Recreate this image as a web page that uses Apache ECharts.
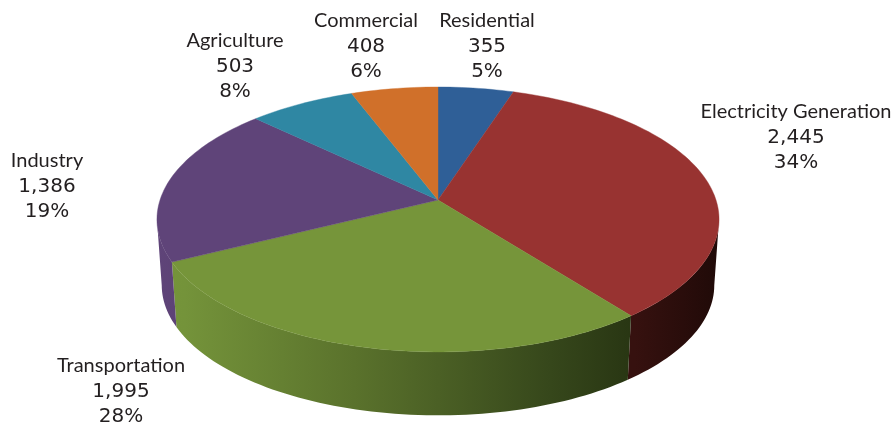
<!DOCTYPE html>
<html>
<head>
<meta charset="utf-8">
<style>html,body{margin:0;padding:0;background:#fff}#chart{width:895px;height:426px}</style>
<script src="https://cdn.jsdelivr.net/npm/echarts@6/dist/echarts.min.js"></script>
</head>
<body>
<div id="chart"></div>
<script>
// Slices run clockwise from twelve o'clock.
const categories = ['Residential', 'Electricity Generation', 'Transportation', 'Industry', 'Agriculture', 'Commercial'];
const values = [355, 2445, 1995, 1386, 503, 408];
const valueLabels = ['355', '2,445', '1,995', '1,386', '503', '408'];
const percentLabels = ['5%', '34%', '28%', '19%', '8%', '6%'];
const topColors = ['#2f5f97', '#983331', '#76953a', '#5f4479', '#2f87a3', '#d0702a'];

// Tilted-disc camera: apex position, half axes, foreshortening and wall depth.
const camera = { cx: 438, cy: 200, a: 278, b: 129.6, persp: 0.147, depth: 66, floorScale: 0.983 };
// Centre of each text block, in slice order.
const labelCentres = [[487, 46.5], [796, 137.5], [121, 391.5], [47, 186.5], [235, 66.5], [366, 46.5]];

const total = values.reduce((s, v) => s + v, 0);
const startAngles = [];
values.reduce((acc, v, i) => { startAngles[i] = acc; return acc + v / total * Math.PI * 2; }, 0);
const sweep = i => values[i] / total * Math.PI * 2;

// The disc's silhouette touches its side extremes at these angles; only the
// rim between them faces the viewer.
const frontStart = Math.acos(-camera.persp);
const frontEnd = Math.PI * 2 - frontStart;

function rim(theta, floor) {
  const w = 1 + camera.persp * Math.cos(theta);
  const k = floor ? camera.floorScale : 1;
  return [
    camera.cx + k * camera.a * Math.sin(theta) / w,
    camera.cy - k * camera.b * Math.cos(theta) / w + (floor ? camera.depth : 0)
  ];
}
function arc(a0, a1, floor) {
  const n = Math.max(8, Math.ceil((a1 - a0) * 40));
  const pts = [];
  for (let k = 0; k <= n; k++) pts.push(rim(a0 + (a1 - a0) * k / n, floor));
  return pts;
}
function wallFill(stops) {
  return { type: 'linear', global: true, x: 157, y: 0, x2: 719, y2: 0,
    colorStops: stops.map(s => ({ offset: s[0], color: s[1] })) };
}
const wallFills = {
  1: wallFill([[0, '#3a1210'], [0.85, '#36110f'], [1, '#200a08']]),
  2: wallFill([[0, '#76953a'], [0.05, '#74933a'], [0.35, '#5a722c'], [0.5, '#4b6025'], [0.7, '#36471b'], [0.86, '#273412'], [1, '#1f2a0e']]),
  3: wallFill([[0, '#5f4479'], [0.1, '#583f70'], [1, '#3f2c52']])
};

const chart = echarts.init(document.getElementById('chart'), null, { renderer: 'canvas' });
const dataRows = values.map((v, i) => [i, v]);
chart.setOption({
  animation: false,
  backgroundColor: '#ffffff',
  series: [
    {
      // Outer walls of the front-facing slices.
      type: 'custom', coordinateSystem: 'none', silent: true, z: 1,
      data: dataRows,
      renderItem(params, api) {
        const i = api.value(0);
        const a0 = Math.max(startAngles[i], frontStart);
        const a1 = Math.min(startAngles[i] + sweep(i), frontEnd);
        if (!wallFills[i] || a1 <= a0) return { type: 'group', children: [] };
        const pts = arc(a0, a1, false).concat(arc(a0, a1, true).reverse());
        return { type: 'polygon', shape: { points: pts }, style: { fill: wallFills[i] } };
      }
    },
    {
      // Top faces of all slices.
      type: 'custom', coordinateSystem: 'none', silent: true, z: 2,
      data: dataRows,
      renderItem(params, api) {
        const i = api.value(0);
        const a0 = startAngles[i];
        const pts = [[camera.cx, camera.cy]].concat(arc(a0, a0 + sweep(i), false));
        return { type: 'polygon', shape: { points: pts },
          style: { fill: topColors[i], stroke: topColors[i], lineWidth: 0.4 } };
      }
    },
    {
      // Name, amount and share above each other.
      type: 'custom', coordinateSystem: 'none', silent: true, z: 3,
      data: dataRows,
      renderItem(params, api) {
        const i = api.value(0);
        return { type: 'text', style: {
          text: '{n|' + categories[i] + '}\n{v|' + valueLabels[i] + '}\n{v|' + percentLabels[i] + '}',
          x: labelCentres[i][0], y: labelCentres[i][1],
          align: 'center', verticalAlign: 'middle',
          rich: {
            n: { font: '20px Lato', fill: '#231f20', lineHeight: 25.5, align: 'center' },
            v: { font: '20px "DejaVu Sans"', fill: '#231f20', lineHeight: 25.5, align: 'center' }
          }
        } };
      }
    }
  ]
});
</script>
</body>
</html>
